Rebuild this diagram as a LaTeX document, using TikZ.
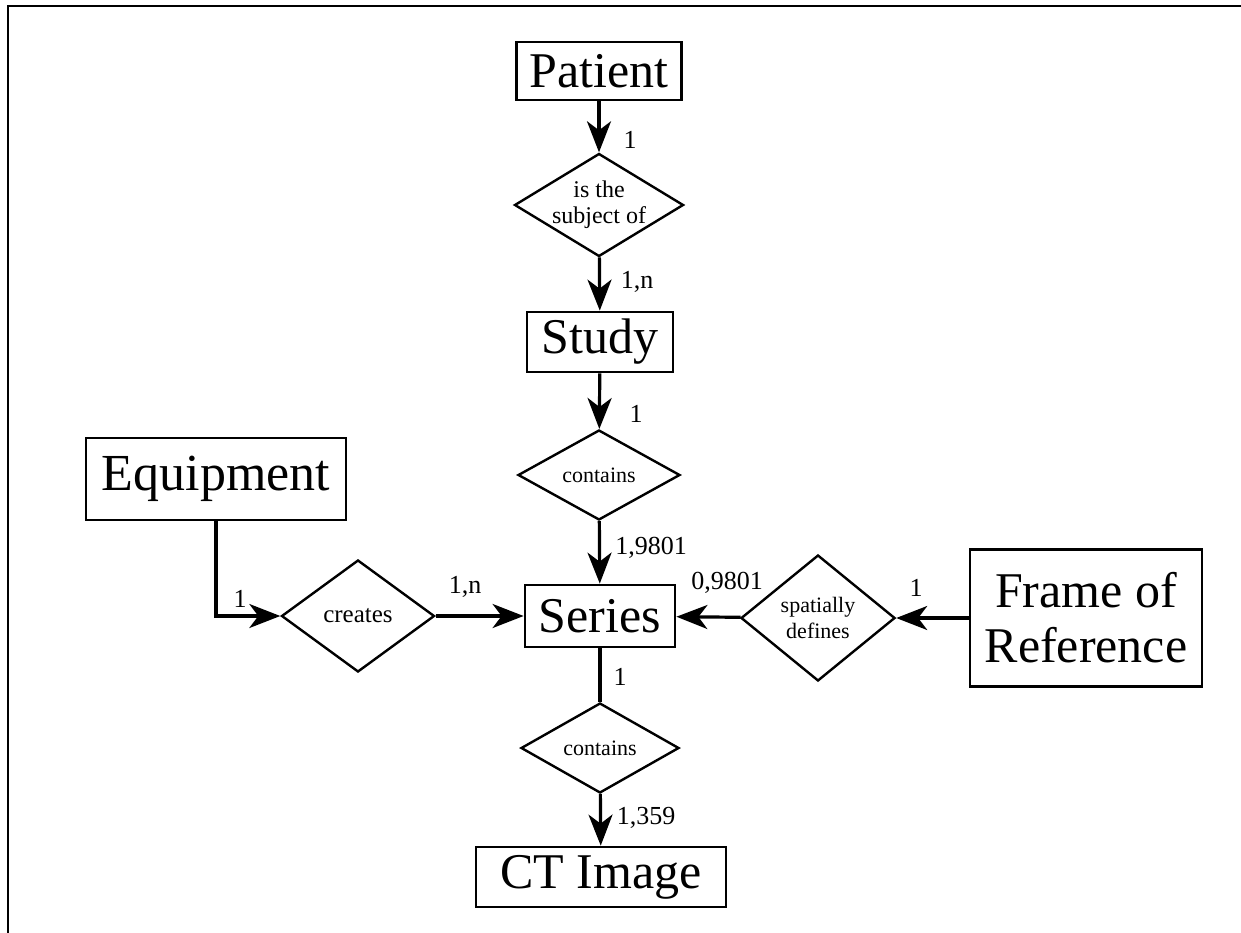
\documentclass[tikz,border=0pt]{standalone}
\usepackage{fontspec}
\setmainfont{Liberation Serif}
\usetikzlibrary{arrows.meta}
\usetikzlibrary{shapes.geometric}

\begin{document}
\begin{tikzpicture}[x=1pt, y=-1pt,
 ent/.style={draw, line width=2.8pt, inner sep=0, align=center, font=\fontsize{50}{55}\selectfont},
 rel/.style={draw, diamond, line width=2.4pt, inner sep=-20pt, align=center},
 conn/.style={line width=3.2pt},
 card/.style={inner sep=0, font=\fontsize{26}{28}\selectfont},
 >={Stealth[length=31pt, width=24pt, inset=9pt]}]
\useasboundingbox (0,0) rectangle (1241,933);
\draw[line width=2.8pt] (8,960) |- (1260,6);

% entities
\node[ent, minimum width=165, minimum height=58] (pat) at (599,71) {Patient};
\node[ent, minimum width=146, minimum height=60] (stu) at (600,342) {Study};
\node[ent, minimum width=150, minimum height=62] (ser) at (600,616) {Series};
\node[ent, minimum width=260, minimum height=82, font=\fontsize{52}{55}\selectfont] (eqp) at (216,479) {Equipment};
\node[ent, minimum width=232, minimum height=137] (frm) at (1086,618) {Frame of\\Reference};
\node[ent, minimum width=250, minimum height=60] (img) at (601,877) {CT Image};

% relationships
\node[rel, minimum width=169, minimum height=103, font=\fontsize{24}{26}\selectfont] (subj) at (599,205) {is the\\subject of};
\node[rel, minimum width=162, minimum height=90, font=\fontsize{22}{26}\selectfont] (cont1) at (599,475) {contains};
\node[rel, minimum width=153, minimum height=112, font=\fontsize{25}{28}\selectfont] (crea) at (358,616) {creates};
\node[rel, minimum width=154, minimum height=126, font=\fontsize{22}{26}\selectfont] (spat) at (818,618) {spatially\\defines};
\node[rel, minimum width=158, minimum height=90, font=\fontsize{22}{26}\selectfont] (cont2) at (600,748) {contains};

% connectors
\draw[conn,->] (pat) -- (subj);
\draw[conn,->] (subj) -- (stu);
\draw[conn,->] (stu) -- (cont1);
\draw[conn,->] (cont1) -- (ser);
\draw[conn,->] (eqp.south) |- (crea.west);
\draw[conn,->] (crea) -- (ser);
\draw[conn,->] (frm) -- (spat);
\draw[conn,->] (spat) -- (ser);
\draw[conn] (ser) -- (cont2);
\draw[conn,->] (cont2) -- (img);

% cardinalities
\node[card] (c1) at (630,140) {1};
\node[card] (c2) at (637,282) {1,n};
\node[card] (c3) at (636,414) {1};
\node[card] (c4) at (651,548) {1,9801};
\node[card] (c5) at (240,599) {1};
\node[card] (c6) at (465,587) {1,n};
\node[card] (c7) at (727,583) {0,9801};
\node[card] (c8) at (916,588) {1};
\node[card] (c9) at (620,677) {1};
\node[card] (c10) at (646,818) {1,359};
\end{tikzpicture}
\end{document}
